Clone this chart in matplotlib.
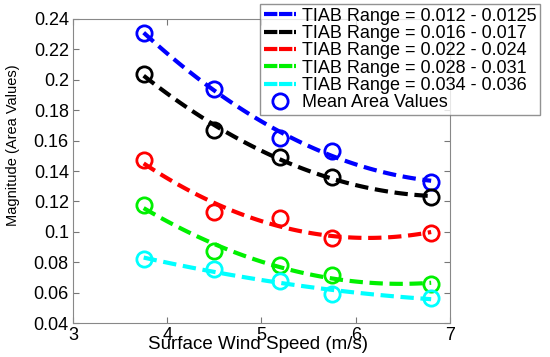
import numpy as np
import matplotlib.pyplot as plt
from matplotlib.lines import Line2D
from matplotlib.ticker import FuncFormatter

plt.rcParams['font.family'] = ['Liberation Sans', 'DejaVu Sans']

wind = [3.75, 4.5, 5.2, 5.75, 6.8]
labels = ['TIAB Range = 0.012 - 0.0125', 'TIAB Range = 0.016 - 0.017',
          'TIAB Range = 0.022 - 0.024', 'TIAB Range = 0.028 - 0.031',
          'TIAB Range = 0.034 - 0.036']
colors = ['#0000ff', '#000000', '#ff0000', '#00f000', '#00ffff']
area_a = [0.231, 0.194, 0.162, 0.153, 0.133]
area_b = [0.204, 0.167, 0.149, 0.136, 0.123]
area_c = [0.147, 0.113, 0.109, 0.096, 0.0995]
area_d = [0.1175, 0.0875, 0.078, 0.0715, 0.0655]
area_e = [0.082, 0.0755, 0.0675, 0.059, 0.0565]
series = [area_a, area_b, area_c, area_d, area_e]

fig = plt.figure(figsize=(5.5, 3.57), dpi=100)
ax = fig.add_axes([0.1327, 0.0952, 0.6855, 0.8516])

# quadratic fit through the mean values, as dashed trend lines
xs = np.linspace(wind[0], wind[-1], 100)
handles = []
for vals, col, lab in zip(series, colors, labels):
    p = np.polyfit(wind, vals, 2)
    ax.plot(xs, np.polyval(p, xs), '--', color=col, lw=3, dashes=(3.2, 1.6))
    ax.plot(wind, vals, 'o', mfc='none', mec=col, ms=11, mew=2)
    handles.append(Line2D([], [], color=col, lw=3, ls='--', dashes=(3.2, 0.4)))
handles.append(Line2D([], [], color='#0000ff', ls='none', marker='o', mfc='none', ms=11, mew=2))

ax.set_xlim(3, 7)
ax.set_ylim(0.04, 0.24)
ax.set_xticks([3, 4, 5, 6, 7])
ax.set_yticks([0.04, 0.06, 0.08, 0.1, 0.12, 0.14, 0.16, 0.18, 0.2, 0.22, 0.24])
ax.yaxis.set_major_formatter(FuncFormatter(lambda v, pos: '%g' % round(v, 3)))
ax.tick_params(direction='in', top=True, right=True, labelsize=13, length=4, color='#777777', pad=3)
for s in ax.spines.values():
    s.set_color('#888888')

ax.set_xlabel('Surface Wind Speed (m/s)', fontsize=13.5)
ax.xaxis.set_label_coords(0.49, -0.042)
ax.set_ylabel('Magnitude (Area Values)', fontsize=10.5,
              family=['Liberation Sans Narrow', 'Liberation Sans'])
ax.yaxis.set_label_coords(-0.141, 0.586)

leg = fig.legend(handles, labels + ['Mean Area Values'], loc='upper right',
                 bbox_to_anchor=(540 / 550, 1 - 4 / 357), fontsize=13, frameon=True,
                 fancybox=False, handlelength=1.8, handletextpad=0.3, labelspacing=0.02,
                 borderpad=0.2, borderaxespad=0)
leg.get_frame().set_edgecolor('#777777')
leg.get_frame().set_linewidth(1)

fig.savefig('out.png', dpi=100)
